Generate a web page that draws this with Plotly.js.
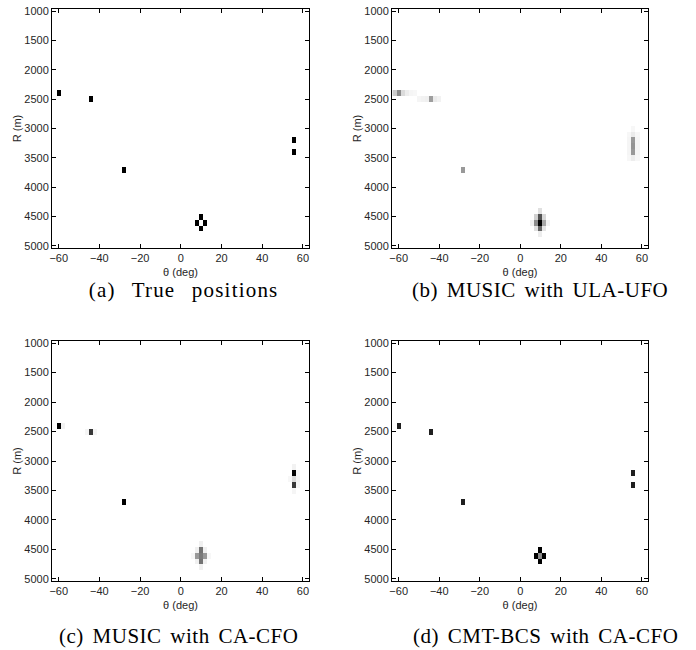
<!DOCTYPE html>
<html><head><meta charset="utf-8">
<script src="https://cdn.plot.ly/plotly-3.0.1.min.js"></script>
<style>html,body{margin:0;padding:0;background:#fff}#chart{width:696px;height:650px}
.annotation-text{word-spacing:3px;letter-spacing:0.5px}
.annotation[data-index="0"] .annotation-text{word-spacing:10px;letter-spacing:1.2px}</style>
</head><body><div id="chart"></div>
<script>
// Grid of the range-angle maps
const thetaStart = -62, thetaStep = 2, thetaCount = 63;
const rStart = 1000, rStep = 100, rCount = 41;

// Panel (a) True positions
const a_theta = [-60, -44, -28, 56, 56, 10, 10, 8, 12];
const a_R     = [2400, 2500, 3700, 3200, 3400, 4500, 4700, 4600, 4600];
const a_val   = [1, 1, 1, 1, 1, 1, 1, 1, 1];

// Panel (b) MUSIC with ULA-UFO
const b_theta = [-62, -60, -58, -56, -54, -52,
                 -50, -48, -46, -44, -42, -40,
                 -28,
                 56, 56, 56, 56, 56, 56, 54, 54, 54, 54, 54, 58, 58, 58, 58, 58,
                 10, 10, 10, 8, 12, 10, 10, 8, 12, 8, 12, 6, 14];
const b_R     = [2400, 2400, 2400, 2400, 2400, 2400,
                 2500, 2500, 2500, 2500, 2500, 2500,
                 3700,
                 3000, 3100, 3200, 3300, 3400, 3500, 3100, 3200, 3300, 3400, 3500, 3100, 3200, 3300, 3400, 3500,
                 4600, 4500, 4700, 4600, 4600, 4400, 4800, 4500, 4500, 4700, 4700, 4600, 4600];
const b_val   = [0.2, 0.45, 0.14, 0.07, 0.04, 0.03,
                 0.04, 0.05, 0.06, 0.38, 0.08, 0.05,
                 0.4,
                 0.03, 0.08, 0.4, 0.42, 0.4, 0.07, 0.03, 0.04, 0.04, 0.04, 0.03, 0.03, 0.04, 0.04, 0.04, 0.03,
                 1.0, 0.68, 0.6, 0.45, 0.35, 0.12, 0.07, 0.18, 0.15, 0.12, 0.1, 0.06, 0.05];

// Panel (c) MUSIC with CA-CFO
const c_theta = [-60, -58, -44, -46, -42, -28,
                 56, 56, 56, 56, 56, 58, 58, 58, 54,
                 10, 10, 10, 8, 12, 10, 10, 8, 12, 8, 12, 6, 14];
const c_R     = [2400, 2400, 2500, 2500, 2500, 3700,
                 3100, 3200, 3300, 3400, 3500, 3200, 3300, 3400, 3300,
                 4600, 4500, 4700, 4600, 4600, 4400, 4800, 4500, 4500, 4700, 4700, 4600, 4600];
const c_val   = [1, 0.05, 0.78, 0.04, 0.04, 1,
                 0.05, 1, 0.15, 0.78, 0.04, 0.04, 0.05, 0.04, 0.03,
                 0.52, 0.55, 0.55, 0.4, 0.4, 0.06, 0.06, 0.06, 0.06, 0.06, 0.06, 0.03, 0.03];

// Panel (d) CMT-BCS with CA-CFO
const d_theta = [-60, -44, -28, 56, 56, 10, 10, 8, 12, 10];
const d_R     = [2400, 2500, 3700, 3200, 3400, 4500, 4700, 4600, 4600, 4600];
const d_val   = [0.88, 0.88, 0.88, 0.88, 0.88, 1, 1, 1, 1, 0.45];

function buildZ(th, rr, vv) {
  const z = [];
  for (let i = 0; i < rCount; i++) { z.push(new Array(thetaCount).fill(0)); }
  for (let k = 0; k < th.length; k++) {
    const ci = Math.round((th[k] - thetaStart) / thetaStep);
    const ri = Math.round((rr[k] - rStart) / rStep);
    if (ri >= 0 && ri < rCount && ci >= 0 && ci < thetaCount) z[ri][ci] = vv[k];
  }
  return z;
}

const panels = [[a_theta, a_R, a_val], [b_theta, b_R, b_val], [c_theta, c_R, c_val], [d_theta, d_R, d_val]];
const axisNames = ['', '2', '3', '4'];
const traces = panels.map((p, i) => ({
  type: 'heatmap',
  z: buildZ(p[0], p[1], p[2]),
  x0: thetaStart, dx: thetaStep, y0: rStart, dy: rStep,
  zmin: 0, zmax: 1, zsmooth: false,
  colorscale: [[0, '#ffffff'], [1, '#000000']],
  showscale: false, hoverinfo: 'skip',
  xaxis: 'x' + axisNames[i], yaxis: 'y' + axisNames[i]
}));

const xDomains = [[52/696, 309/696], [392/696, 648/696], [52/696, 309/696], [392/696, 648/696]];
const yDomains = [[1-248/650, 1-9/650], [1-248/650, 1-9/650], [1-581/650, 1-341/650], [1-581/650, 1-341/650]];

const tickFont = {family: 'Liberation Sans, Arial, sans-serif', size: 11, color: '#262626'};
const layout = {
  width: 696, height: 650,
  margin: {l: 0, r: 0, t: 0, b: 0},
  paper_bgcolor: '#ffffff', plot_bgcolor: '#ffffff',
  showlegend: false,
  annotations: []
};
for (let i = 0; i < 4; i++) {
  const n = axisNames[i];
  layout['xaxis' + n] = {
    domain: xDomains[i], anchor: 'y' + n, range: [-63.3, 63],
    tickvals: [-60, -40, -20, 0, 20, 40, 60], ticktext: ['\u221260', '\u221240', '\u221220', '0', '20', '40', '60'],
    ticks: 'inside', ticklen: 4, tickcolor: '#000', tickwidth: 1,
    showline: true, linecolor: '#000', linewidth: 1, mirror: 'ticks',
    showgrid: false, zeroline: false, tickfont: tickFont,
    title: {text: '\u03b8 (deg)', font: tickFont, standoff: 5}
  };
  layout['yaxis' + n] = {
    domain: yDomains[i], anchor: 'x' + n, range: [5035, 965],
    tickvals: [1000, 1500, 2000, 2500, 3000, 3500, 4000, 4500, 5000],
    ticks: 'inside', ticklen: 4, tickcolor: '#000', tickwidth: 1,
    showline: true, linecolor: '#000', linewidth: 1, mirror: 'ticks',
    showgrid: false, zeroline: false, tickfont: tickFont,
    title: {text: 'R (m)', font: tickFont, standoff: 0}
  };
}
const captions = ['(a) True positions', '(b) MUSIC with ULA-UFO', '(c) MUSIC with CA-CFO', '(d) CMT-BCS with CA-CFO'];
const capX = [183, 540, 178, 545];
const capY = [290, 290, 636, 636];
captions.forEach((t, i) => layout.annotations.push({
  text: t, xref: 'paper', yref: 'paper', x: capX[i]/696, y: 1 - capY[i]/650,
  xanchor: 'center', yanchor: 'middle', showarrow: false,
  font: {family: 'Liberation Serif, Times New Roman, serif', size: 21, color: '#000'}
}));

Plotly.newPlot('chart', traces, layout, {staticPlot: true, displayModeBar: false});
</script></body></html>
